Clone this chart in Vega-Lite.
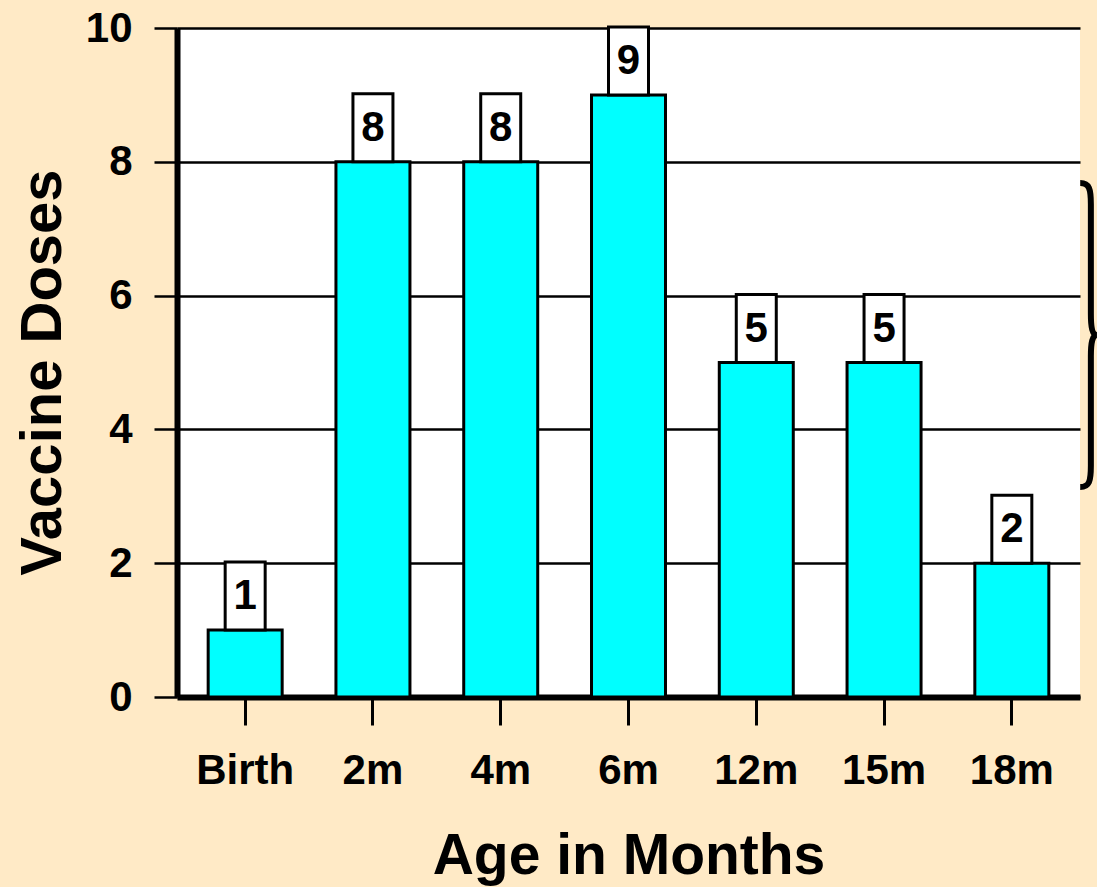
{
  "$schema": "https://vega.github.io/schema/vega-lite/v6.json",
  "width": 903,
  "height": 669,
  "autosize": {"type": "none"},
  "padding": {"left": 177, "top": 28, "right": 17, "bottom": 190},
  "background": "#FFEAC6",
  "data": {
    "values": [
      {"age": "Birth", "doses": 1},
      {"age": "2m", "doses": 8},
      {"age": "4m", "doses": 8},
      {"age": "6m", "doses": 9},
      {"age": "12m", "doses": 5},
      {"age": "15m", "doses": 5},
      {"age": "18m", "doses": 2}
    ]
  },
  "encoding": {
    "x": {
      "field": "age",
      "type": "nominal",
      "sort": ["Birth", "2m", "4m", "6m", "12m", "15m", "18m"],
      "scale": {"paddingInner": 0.413, "paddingOuter": 0.24},
      "axis": {
        "title": "Age in Months",
        "titleFontSize": 57,
        "titleFontWeight": "bold",
        "titleColor": "black",
        "titleY": 176,
        "titleBaseline": "alphabetic",
        "labelAngle": 0,
        "labelFontSize": 42,
        "labelFontWeight": "bold",
        "labelColor": "black",
        "labelBaseline": "alphabetic",
        "labelPadding": 58,
        "tickSize": 28,
        "tickWidth": 3,
        "tickColor": "black",
        "domainColor": "black",
        "domainWidth": 6,
        "grid": false
      }
    },
    "y": {
      "field": "doses",
      "type": "quantitative",
      "scale": {"domain": [0, 10], "nice": false},
      "axis": {
        "values": [0, 2, 4, 6, 8, 10],
        "title": "Vaccine Doses",
        "titleFontSize": 58,
        "titleFontWeight": "bold",
        "titleColor": "black",
        "titleAngle": 270,
        "titleX": -117,
        "titleY": 344,
        "titleAlign": "center",
        "titleBaseline": "alphabetic",
        "labelFontSize": 42,
        "labelFontWeight": "bold",
        "labelColor": "black",
        "labelPadding": 22,
        "labelFlush": false,
        "labelOverlap": false,
        "tickSize": 23,
        "tickWidth": 2.5,
        "tickColor": "black",
        "domainColor": "black",
        "domainWidth": 6,
        "grid": true,
        "gridColor": "black",
        "gridWidth": 2.5,
        "gridOpacity": 1
      }
    }
  },
  "layer": [
    {
      "mark": {"type": "bar", "fill": "#00FFFF", "stroke": "black", "strokeWidth": 3, "width": 74}
    },
    {
      "mark": {"type": "bar", "fill": "white", "stroke": "black", "strokeWidth": 3, "width": 40, "y2Offset": -68},
      "encoding": {"y2": {"field": "doses"}}
    },
    {
      "mark": {"type": "text", "fontSize": 42, "fontWeight": "bold", "color": "black", "baseline": "alphabetic", "dy": -21},
      "encoding": {"text": {"field": "doses", "type": "quantitative"}}
    },
    {
      "transform": [{"filter": "datum.age == '18m'"}],
      "mark": {
        "type": "point",
        "shape": "M -0.05 -1 C 0.01 -1 0.02 -0.96 0.02 -0.86 L 0.02 -0.14 C 0.02 -0.05 0.03 0 0.06 0 C 0.03 0 0.02 0.05 0.02 0.14 L 0.02 0.86 C 0.02 0.96 0.01 1 -0.05 1",
        "filled": false,
        "fill": "transparent",
        "stroke": "black",
        "strokeWidth": 6,
        "strokeOpacity": 1,
        "opacity": 1,
        "size": 92416,
        "xOffset": 76
      },
      "encoding": {
        "y": {"datum": 5.41}
      }
    }
  ],
  "config": {
    "font": "Liberation Sans",
    "view": {"fill": "white", "stroke": null}
  }
}
